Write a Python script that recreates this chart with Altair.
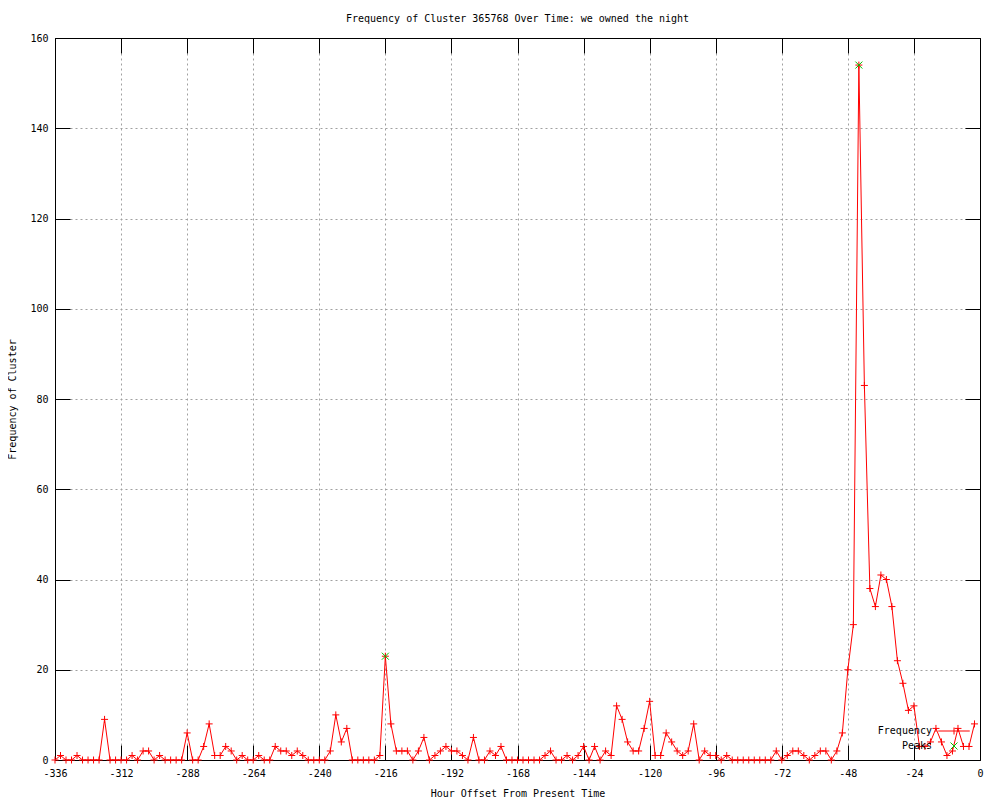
import altair as alt
import pandas as pd

# ---------------- data ----------------
hours = list(range(-336, 0, 2))
frequency = [
    0, 1, 0, 0, 1, 0, 0, 0, 0, 9, 0, 0,        # -336 .. -314
    0, 0, 1, 0, 2, 2, 0, 1, 0, 0, 0, 0,        # -312 .. -290
    6, 0, 0, 3, 8, 1, 1, 3, 2, 0, 1, 0,        # -288 .. -266
    0, 1, 0, 0, 3, 2, 2, 1, 2, 1, 0, 0,        # -264 .. -242
    0, 0, 2, 10, 4, 7, 0, 0, 0, 0, 0, 1,       # -240 .. -218
    23, 8, 2, 2, 2, 0, 2, 5, 0, 1, 2, 3,       # -216 .. -194
    2, 2, 1, 0, 5, 0, 0, 2, 1, 3, 0, 0,        # -192 .. -170
    0, 0, 0, 0, 0, 1, 2, 0, 0, 1, 0, 1,        # -168 .. -146
    3, 0, 3, 0, 2, 1, 12, 9, 4, 2, 2, 7,       # -144 .. -122
    13, 1, 1, 6, 4, 2, 1, 2, 8, 0, 2, 1,       # -120 .. -98
    1, 0, 1, 0, 0, 0, 0, 0, 0, 0, 0, 2,        # -96 .. -74
    0, 1, 2, 2, 1, 0, 1, 2, 2, 0, 2, 6,        # -72 .. -50
    20, 30, 154, 83, 38, 34, 41, 40, 34, 22, 17, 11,  # -48 .. -26
    12, 3, 3, 4, 7, 4, 1, 2, 7, 3, 3, 8,       # -24 .. -2
]
peak_hours = [-216, -44]
peak_values = [23, 154]

x_ticks = [-336, -312, -288, -264, -240, -216, -192, -168, -144, -120, -96, -72, -48, -24, 0]
y_ticks = [0, 20, 40, 60, 80, 100, 120, 140, 160]

title_text = "Frequency of Cluster 365768 Over Time: we owned the night"
x_title = "Hour Offset From Present Time"
y_title = "Frequency of Cluster"
series_names = ["Frequency", "Peaks"]
series_colors = ["#ff0000", "#00c000"]

# ---------------- style ----------------
W, H = 925, 722
FONT = "DejaVu Sans Mono"
TICK = 15

PLUS = "M-1,0L1,0M0,-1L0,1"
CROSS = "M-1,-1L1,1M-1,1L1,-1"
LEGEND_LINE = "M-4.5,0L4.5,0M0,-1L0,1"

freq_df = pd.DataFrame({"hour": hours, "value": frequency, "series": "Frequency"})
peak_df = pd.DataFrame({"hour": peak_hours, "value": peak_values, "series": "Peaks"})
points_df = pd.concat([freq_df, peak_df], ignore_index=True)

x_scale = alt.Scale(domain=[-336, 0], nice=False, zero=False)
y_scale = alt.Scale(domain=[0, 160], nice=False, zero=True)

LABEL_EXPR = "'' + datum.value"

# layer 1: line with labelled axes, grid, bottom/left border
main_x = alt.Axis(orient="bottom", values=x_ticks, labelExpr=LABEL_EXPR, ticks=False,
                  domain=True, grid=True, labelPadding=8, title=x_title, titlePadding=10,
                  labelFlush=False, labelOverlap=False)
main_y = alt.Axis(orient="left", values=y_ticks, labelExpr=LABEL_EXPR, ticks=False,
                  domain=True, grid=True, labelPadding=7, title=y_title, titlePadding=12)

line = alt.Chart(freq_df).mark_line(color="#ff0000", strokeWidth=1).encode(
    x=alt.X("hour:Q", scale=x_scale, axis=main_x),
    y=alt.Y("value:Q", scale=y_scale, axis=main_y),
)

# layer 2: markers, ticks on bottom/left pointing inward
in_bottom = alt.Axis(orient="top", offset=-H, values=x_ticks, labels=False, domain=False,
                     grid=False, ticks=True, tickSize=TICK, title=None)
in_left = alt.Axis(orient="right", offset=-W, values=y_ticks, labels=False, domain=False,
                   grid=False, ticks=True, tickSize=TICK, title=None)

points = alt.Chart(points_df).mark_point(filled=False, strokeWidth=1, size=49, opacity=1).encode(
    x=alt.X("hour:Q", scale=x_scale, axis=in_bottom),
    y=alt.Y("value:Q", scale=y_scale, axis=in_left),
    color=alt.Color("series:N", scale=alt.Scale(domain=series_names, range=series_colors), legend=None),
    shape=alt.Shape("series:N", scale=alt.Scale(domain=series_names, range=[PLUS, CROSS]), legend=None),
)

# layer 3: legend only (no marks), ticks + border at top/right
in_top = alt.Axis(orient="bottom", offset=-H, values=x_ticks, labels=False, domain=True,
                  grid=False, ticks=True, tickSize=TICK, title=None)
in_right = alt.Axis(orient="left", offset=-W, values=y_ticks, labels=False, domain=True,
                    grid=False, ticks=True, tickSize=TICK, title=None)

legend = alt.Legend(title=None, orient="none", legendX=894, legendY=688, padding=0,
                    labelFont=FONT, labelFontSize=10, labelColor="black", labelAlign="right",
                    labelOffset={"expr": "-27"}, symbolSize=49, symbolStrokeWidth=1, rowPadding=3,
                    symbolOpacity=1)

legend_layer = alt.Chart(points_df).transform_filter("false").mark_point(
    filled=False, strokeWidth=1, size=49
).encode(
    x=alt.X("hour:Q", scale=x_scale, axis=in_top),
    y=alt.Y("value:Q", scale=y_scale, axis=in_right),
    color=alt.Color("series:N", scale=alt.Scale(domain=series_names, range=series_colors), legend=legend),
    shape=alt.Shape("series:N", scale=alt.Scale(domain=series_names, range=[LEGEND_LINE, CROSS]), legend=legend),
)

chart = alt.layer(line, points, legend_layer).resolve_scale(
    color="independent", shape="independent"
).resolve_axis(
    x="independent", y="independent"
).properties(
    width=W, height=H,
    padding={"left": 47, "top": 30, "right": 12, "bottom": 40},
    autosize="none",
    background="white",
    title=alt.TitleParams(text=title_text, font=FONT, fontSize=10, fontWeight="normal",
                          anchor="middle", color="black", offset=15, baseline="bottom", dy=16),
).configure_view(
    stroke=None
).configure_axis(
    labelFont=FONT, labelFontSize=10, labelColor="black",
    titleFont=FONT, titleFontSize=10, titleFontWeight="normal", titleColor="black",
    tickColor="black", tickWidth=1, domainColor="black", domainWidth=1,
    gridColor="#a0a0a0", gridDash=[2, 3], gridWidth=1, gridOpacity=1,
)

chart.save("out.html", embed_options={"renderer": "svg", "actions": False})
